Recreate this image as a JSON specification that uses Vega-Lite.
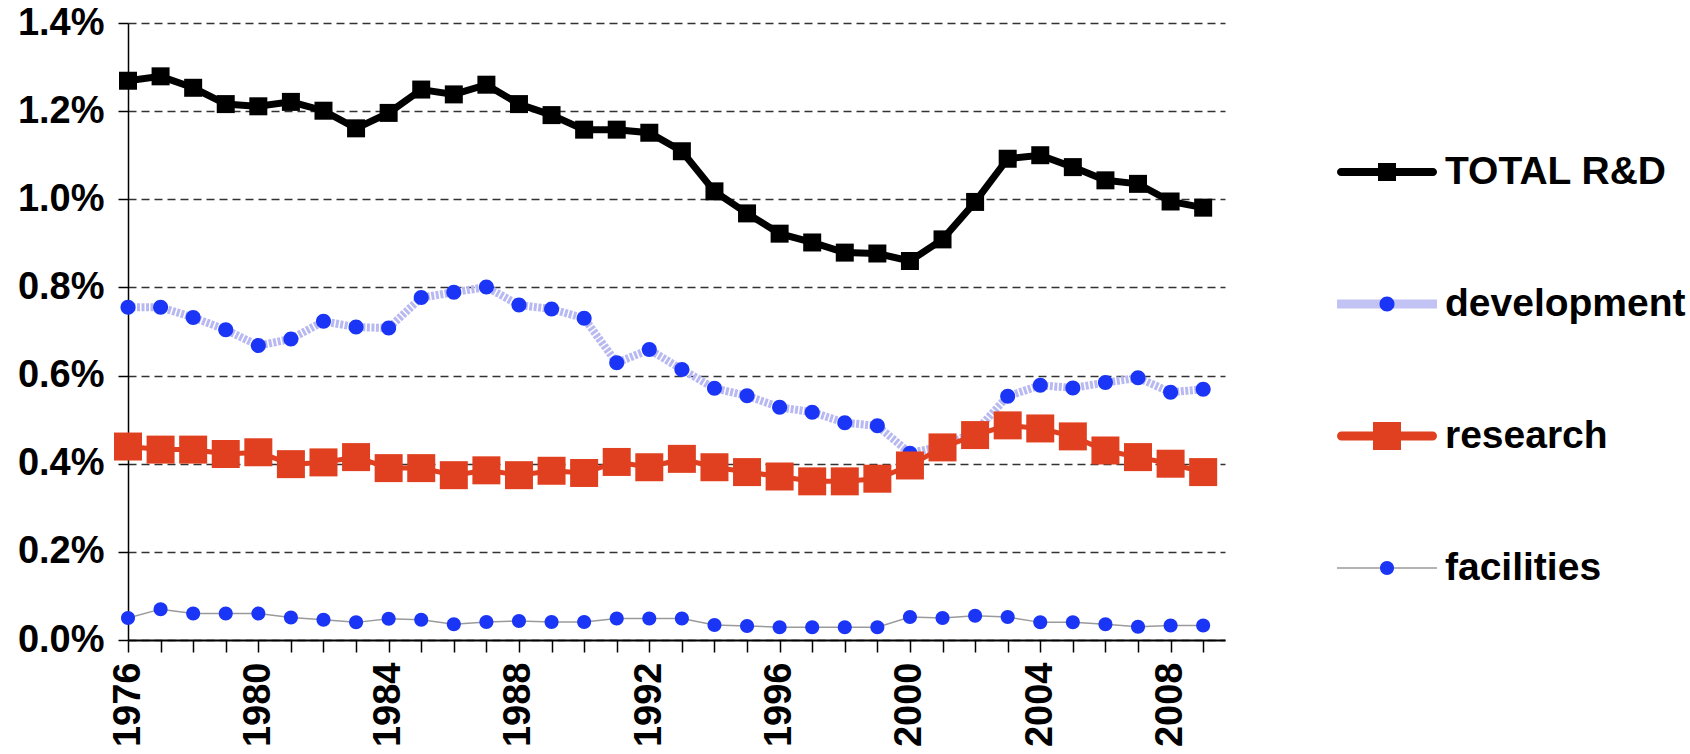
{
  "$schema": "https://vega.github.io/schema/vega-lite/v6.json",
  "autosize": {"type": "none"},
  "width": 1097,
  "height": 617,
  "padding": {"left": 128, "top": 23, "right": 465, "bottom": 114},
  "background": "#ffffff",
  "config": {"view": {"stroke": null}, "font": "Liberation Sans"},
  "data": {"values": [
    {"year":1976,"series":"TOTAL R&D","value":0.01269},{"year":1977,"series":"TOTAL R&D","value":0.01279},{"year":1978,"series":"TOTAL R&D","value":0.01253},{"year":1979,"series":"TOTAL R&D","value":0.01216},{"year":1980,"series":"TOTAL R&D","value":0.01211},{"year":1981,"series":"TOTAL R&D","value":0.01221},{"year":1982,"series":"TOTAL R&D","value":0.01201},{"year":1983,"series":"TOTAL R&D","value":0.01161},{"year":1984,"series":"TOTAL R&D","value":0.01196},{"year":1985,"series":"TOTAL R&D","value":0.01249},{"year":1986,"series":"TOTAL R&D","value":0.01238},{"year":1987,"series":"TOTAL R&D","value":0.0126},{"year":1988,"series":"TOTAL R&D","value":0.01216},{"year":1989,"series":"TOTAL R&D","value":0.01191},{"year":1990,"series":"TOTAL R&D","value":0.01158},{"year":1991,"series":"TOTAL R&D","value":0.01158},{"year":1992,"series":"TOTAL R&D","value":0.01151},{"year":1993,"series":"TOTAL R&D","value":0.01109},{"year":1994,"series":"TOTAL R&D","value":0.01018},{"year":1995,"series":"TOTAL R&D","value":0.00968},{"year":1996,"series":"TOTAL R&D","value":0.00922},{"year":1997,"series":"TOTAL R&D","value":0.00902},{"year":1998,"series":"TOTAL R&D","value":0.00879},{"year":1999,"series":"TOTAL R&D","value":0.00877},{"year":2000,"series":"TOTAL R&D","value":0.0086},{"year":2001,"series":"TOTAL R&D","value":0.00909},{"year":2002,"series":"TOTAL R&D","value":0.00994},{"year":2003,"series":"TOTAL R&D","value":0.01092},{"year":2004,"series":"TOTAL R&D","value":0.011},{"year":2005,"series":"TOTAL R&D","value":0.01073},{"year":2006,"series":"TOTAL R&D","value":0.01043},{"year":2007,"series":"TOTAL R&D","value":0.01035},{"year":2008,"series":"TOTAL R&D","value":0.00995},{"year":2009,"series":"TOTAL R&D","value":0.00981},
    {"year":1976,"series":"development","value":0.00755},{"year":1977,"series":"development","value":0.00755},{"year":1978,"series":"development","value":0.00732},{"year":1979,"series":"development","value":0.00704},{"year":1980,"series":"development","value":0.00668},{"year":1981,"series":"development","value":0.00683},{"year":1982,"series":"development","value":0.00723},{"year":1983,"series":"development","value":0.0071},{"year":1984,"series":"development","value":0.00708},{"year":1985,"series":"development","value":0.00777},{"year":1986,"series":"development","value":0.00789},{"year":1987,"series":"development","value":0.00801},{"year":1988,"series":"development","value":0.0076},{"year":1989,"series":"development","value":0.00751},{"year":1990,"series":"development","value":0.0073},{"year":1991,"series":"development","value":0.00629},{"year":1992,"series":"development","value":0.00659},{"year":1993,"series":"development","value":0.00614},{"year":1994,"series":"development","value":0.00571},{"year":1995,"series":"development","value":0.00554},{"year":1996,"series":"development","value":0.00528},{"year":1997,"series":"development","value":0.00517},{"year":1998,"series":"development","value":0.00493},{"year":1999,"series":"development","value":0.00486},{"year":2000,"series":"development","value":0.00424},{"year":2001,"series":"development","value":0.0044},{"year":2002,"series":"development","value":0.00472},{"year":2003,"series":"development","value":0.00553},{"year":2004,"series":"development","value":0.00578},{"year":2005,"series":"development","value":0.00572},{"year":2006,"series":"development","value":0.00584},{"year":2007,"series":"development","value":0.00595},{"year":2008,"series":"development","value":0.00562},{"year":2009,"series":"development","value":0.00569},
    {"year":1976,"series":"research","value":0.00439},{"year":1977,"series":"research","value":0.00432},{"year":1978,"series":"research","value":0.00432},{"year":1979,"series":"research","value":0.00422},{"year":1980,"series":"research","value":0.00426},{"year":1981,"series":"research","value":0.00399},{"year":1982,"series":"research","value":0.00403},{"year":1983,"series":"research","value":0.00415},{"year":1984,"series":"research","value":0.0039},{"year":1985,"series":"research","value":0.0039},{"year":1986,"series":"research","value":0.00374},{"year":1987,"series":"research","value":0.00385},{"year":1988,"series":"research","value":0.00374},{"year":1989,"series":"research","value":0.00384},{"year":1990,"series":"research","value":0.00379},{"year":1991,"series":"research","value":0.00404},{"year":1992,"series":"research","value":0.00392},{"year":1993,"series":"research","value":0.00411},{"year":1994,"series":"research","value":0.00392},{"year":1995,"series":"research","value":0.00381},{"year":1996,"series":"research","value":0.00371},{"year":1997,"series":"research","value":0.0036},{"year":1998,"series":"research","value":0.0036},{"year":1999,"series":"research","value":0.00366},{"year":2000,"series":"research","value":0.00396},{"year":2001,"series":"research","value":0.00437},{"year":2002,"series":"research","value":0.00465},{"year":2003,"series":"research","value":0.00487},{"year":2004,"series":"research","value":0.0048},{"year":2005,"series":"research","value":0.00462},{"year":2006,"series":"research","value":0.0043},{"year":2007,"series":"research","value":0.00415},{"year":2008,"series":"research","value":0.004},{"year":2009,"series":"research","value":0.00381},
    {"year":1976,"series":"facilities","value":0.0005},{"year":1977,"series":"facilities","value":0.0007},{"year":1978,"series":"facilities","value":0.0006},{"year":1979,"series":"facilities","value":0.0006},{"year":1980,"series":"facilities","value":0.0006},{"year":1981,"series":"facilities","value":0.00051},{"year":1982,"series":"facilities","value":0.00046},{"year":1983,"series":"facilities","value":0.0004},{"year":1984,"series":"facilities","value":0.00048},{"year":1985,"series":"facilities","value":0.00046},{"year":1986,"series":"facilities","value":0.00036},{"year":1987,"series":"facilities","value":0.00041},{"year":1988,"series":"facilities","value":0.00043},{"year":1989,"series":"facilities","value":0.00041},{"year":1990,"series":"facilities","value":0.00041},{"year":1991,"series":"facilities","value":0.00049},{"year":1992,"series":"facilities","value":0.00049},{"year":1993,"series":"facilities","value":0.00049},{"year":1994,"series":"facilities","value":0.00034},{"year":1995,"series":"facilities","value":0.00032},{"year":1996,"series":"facilities","value":0.00029},{"year":1997,"series":"facilities","value":0.00029},{"year":1998,"series":"facilities","value":0.00029},{"year":1999,"series":"facilities","value":0.00029},{"year":2000,"series":"facilities","value":0.00052},{"year":2001,"series":"facilities","value":0.0005},{"year":2002,"series":"facilities","value":0.00055},{"year":2003,"series":"facilities","value":0.00052},{"year":2004,"series":"facilities","value":0.0004},{"year":2005,"series":"facilities","value":0.0004},{"year":2006,"series":"facilities","value":0.00036},{"year":2007,"series":"facilities","value":0.0003},{"year":2008,"series":"facilities","value":0.00033},{"year":2009,"series":"facilities","value":0.00033}
  ]},
  "encoding": {
    "x": {
      "field": "year", "type": "quantitative",
      "scale": {"domain": [1976, 2009.67], "nice": false, "zero": false},
      "axis": {
        "title": null,
        "values": [1976,1977,1978,1979,1980,1981,1982,1983,1984,1985,1986,1987,1988,1989,1990,1991,1992,1993,1994,1995,1996,1997,1998,1999,2000,2001,2002,2003,2004,2005,2006,2007,2008,2009],
        "format": "d",
        "labelExpr": "datum.value % 4 === 0 ? datum.label : ''",
        "labelAngle": 270,
        "labelFont": "Liberation Sans", "labelFontSize": 38, "labelFontWeight": "bold", "labelColor": "#000000",
        "labelPadding": 10, "labelOverlap": false, "labelFlush": false, "labelBound": false,
        "tickSize": 12, "tickColor": "#000000", "tickWidth": 1.5,
        "domainColor": "#000000", "domainWidth": 2,
        "grid": false
      }
    },
    "y": {
      "field": "value", "type": "quantitative",
      "scale": {"domain": [0, 0.014], "nice": false, "zero": true},
      "axis": {
        "title": null,
        "values": [0, 0.002, 0.004, 0.006, 0.008, 0.01, 0.012, 0.014],
        "format": ".1%",
        "labelFont": "Liberation Sans", "labelFontSize": 38, "labelFontWeight": "bold", "labelColor": "#000000",
        "labelPadding": 14,
        "tickSize": 10, "tickColor": "#000000", "tickWidth": 1.5,
        "domainColor": "#000000", "domainWidth": 1.5,
        "grid": true, "gridColor": "#333333", "gridDash": [8, 5], "gridWidth": 1.5
      }
    }
  },
  "layer": [
    {
      "transform": [{"filter": "datum.series === 'facilities'"}],
      "mark": {"type": "line", "strokeWidth": 1.5},
      "encoding": {
        "stroke": {
          "field": "series", "type": "nominal",
          "scale": {"domain": ["TOTAL R&D", "development", "research", "facilities"], "range": ["#000000", "#b9b9f2", "#e0401f", "#9a9a9a"]},
          "legend": {
            "title": null, "orient": "none", "legendX": 1209, "legendY": 99, "direction": "vertical",
            "symbolSize": 10000, "symbolStrokeWidth": 0, "symbolType": "M-1,0H1",
            "labelFont": "Liberation Sans", "labelFontSize": 39, "labelFontWeight": "bold", "labelColor": "#000000",
            "labelLimit": 600, "labelOffset": 8, "rowPadding": 62, "padding": 0,
            "encode": {"symbols": {"update": {
              "stroke": {"value": "transparent"},
              "strokeWidth": {"value": 0},
              "shape": [
                {"test": "datum.value === 'TOTAL R&D'", "value": "M-0.92,-0.08H0.92A0.08,0.08 0 0 1 0.92,0.08H-0.92A0.08,0.08 0 0 1 -0.92,-0.08Z"},
                {"test": "datum.value === 'development'", "value": "M-1,-0.09H1V0.09H-1Z"},
                {"test": "datum.value === 'research'", "value": "M-0.91,-0.09H0.91A0.09,0.09 0 0 1 0.91,0.09H-0.91A0.09,0.09 0 0 1 -0.91,-0.09Z"},
                {"value": "M-1,-0.015H1V0.015H-1Z"}
              ],
              "fill": [
                {"test": "datum.value === 'TOTAL R&D'", "value": "#000000"},
                {"test": "datum.value === 'development'", "value": "#c2c2f4"},
                {"test": "datum.value === 'research'", "value": "#e0401f"},
                {"value": "#9a9a9a"}
              ]
            }}}
          }
        }
      }
    },
    {
      "transform": [{"filter": "datum.series === 'facilities'"}],
      "mark": {"type": "point", "filled": true, "size": 10000, "opacity": 1, "strokeWidth": 0},
      "encoding": {
        "fill": {
          "field": "series", "type": "nominal",
          "scale": {"domain": ["facilities", "research", "development", "TOTAL R&D"], "range": ["#1a35f5", "#e0401f", "#1a35f5", "#000000"]},
          "legend": {
            "title": null, "orient": "none", "legendX": 1209, "legendY": 99, "direction": "vertical",
            "values": ["TOTAL R&D", "development", "research", "facilities"],
            "symbolSize": 10000, "symbolStrokeWidth": 0, "symbolOpacity": 1,
            "labelFont": "Liberation Sans", "labelFontSize": 39, "labelFontWeight": "bold", "labelColor": "#000000", "labelOpacity": 0,
            "labelLimit": 600, "labelOffset": 8, "rowPadding": 62, "padding": 0
          }
        },
        "shape": {
          "field": "series", "type": "nominal",
          "scale": {"domain": ["facilities", "research", "development", "TOTAL R&D"], "range": [
            "M-0.14,0A0.14,0.14 0 1,0 0.14,0A0.14,0.14 0 1,0 -0.14,0Z",
            "M-0.28,-0.28H0.28V0.28H-0.28Z",
            "M-0.15,0A0.15,0.15 0 1,0 0.15,0A0.15,0.15 0 1,0 -0.15,0Z",
            "M-0.18,-0.18H0.18V0.18H-0.18Z"
          ]},
          "legend": {
            "title": null, "orient": "none", "legendX": 1209, "legendY": 99, "direction": "vertical",
            "values": ["TOTAL R&D", "development", "research", "facilities"],
            "symbolSize": 10000, "symbolStrokeWidth": 0, "symbolOpacity": 1,
            "labelFont": "Liberation Sans", "labelFontSize": 39, "labelFontWeight": "bold", "labelColor": "#000000", "labelOpacity": 0,
            "labelLimit": 600, "labelOffset": 8, "rowPadding": 62, "padding": 0
          }
        }
      }
    },
    {
      "transform": [{"filter": "datum.series === 'development'"}],
      "mark": {"type": "line", "strokeWidth": 8, "strokeDash": [3, 1.5]},
      "encoding": {"stroke": {"field": "series", "type": "nominal"}}
    },
    {
      "transform": [{"filter": "datum.series === 'development'"}],
      "mark": {"type": "point", "filled": true, "size": 10000, "opacity": 1, "strokeWidth": 0},
      "encoding": {"fill": {"field": "series", "type": "nominal"}, "shape": {"field": "series", "type": "nominal"}}
    },
    {
      "transform": [{"filter": "datum.series === 'research'"}],
      "mark": {"type": "line", "strokeWidth": 5},
      "encoding": {"stroke": {"field": "series", "type": "nominal"}}
    },
    {
      "transform": [{"filter": "datum.series === 'research'"}],
      "mark": {"type": "point", "filled": true, "size": 10000, "opacity": 1, "strokeWidth": 0},
      "encoding": {"fill": {"field": "series", "type": "nominal"}, "shape": {"field": "series", "type": "nominal"}}
    },
    {
      "transform": [{"filter": "datum.series === 'TOTAL R&D'"}],
      "mark": {"type": "line", "strokeWidth": 7},
      "encoding": {"stroke": {"field": "series", "type": "nominal"}}
    },
    {
      "transform": [{"filter": "datum.series === 'TOTAL R&D'"}],
      "mark": {"type": "point", "filled": true, "size": 10000, "opacity": 1, "strokeWidth": 0},
      "encoding": {"fill": {"field": "series", "type": "nominal"}, "shape": {"field": "series", "type": "nominal"}}
    }
  ]
}
